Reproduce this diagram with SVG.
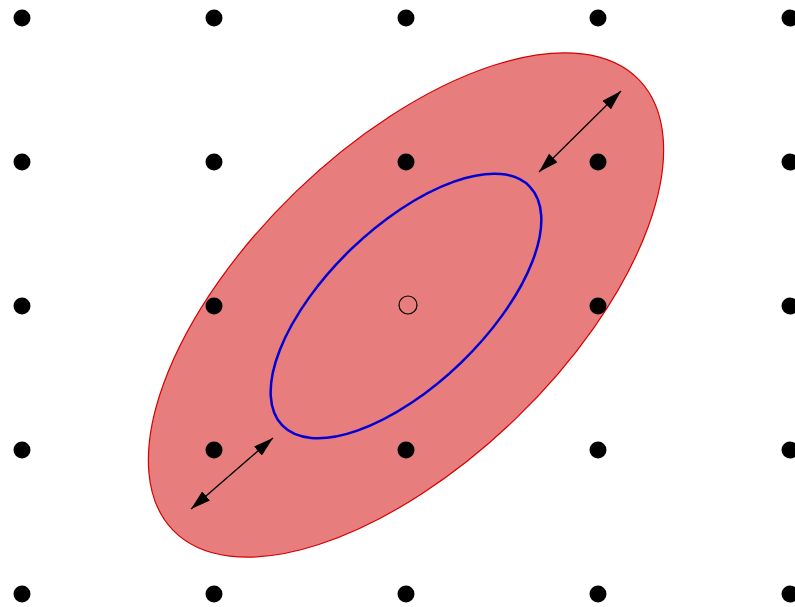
<svg xmlns="http://www.w3.org/2000/svg" width="795" height="607" viewBox="0 0 795 607">
<style>
.dot{fill:#000}
.outer{fill:#e77e7d;stroke:#d40000;stroke-width:1.2}
.inner{fill:none;stroke:#0000d4;stroke-width:2.5}
.center{fill:none;stroke:#000;stroke-width:1.2}
.arr{stroke:#000;stroke-width:1.3;fill:none;marker-start:url(#ah);marker-end:url(#ah)}
</style>
<defs>
<marker id="ah" viewBox="0 -6 20 12" markerWidth="20" markerHeight="12" refX="20" refY="0" markerUnits="userSpaceOnUse" orient="auto-start-reverse">
<path d="M0,-6 L20,0 L0,6 z" fill="#000"/>
</marker>
</defs>
<rect width="795" height="607" fill="#fff"/>
<g id="outer-region">
<ellipse class="outer" cx="406" cy="305" rx="324" ry="158" transform="rotate(-44 406 305)"/>
</g>
<g id="grid">
<circle class="dot" cx="22" cy="18" r="8.5"/><circle class="dot" cx="214" cy="18" r="8.5"/><circle class="dot" cx="406" cy="18" r="8.5"/><circle class="dot" cx="598" cy="18" r="8.5"/><circle class="dot" cx="790" cy="18" r="8.5"/>
<circle class="dot" cx="22" cy="162" r="8.5"/><circle class="dot" cx="214" cy="162" r="8.5"/><circle class="dot" cx="406" cy="162" r="8.5"/><circle class="dot" cx="598" cy="162" r="8.5"/><circle class="dot" cx="790" cy="162" r="8.5"/>
<circle class="dot" cx="22" cy="306" r="8.5"/><circle class="dot" cx="214" cy="306" r="8.5"/><circle class="dot" cx="598" cy="306" r="8.5"/><circle class="dot" cx="790" cy="306" r="8.5"/>
<circle class="dot" cx="22" cy="450" r="8.5"/><circle class="dot" cx="214" cy="450" r="8.5"/><circle class="dot" cx="406" cy="450" r="8.5"/><circle class="dot" cx="598" cy="450" r="8.5"/><circle class="dot" cx="790" cy="450" r="8.5"/>
<circle class="dot" cx="22" cy="594" r="8.5"/><circle class="dot" cx="214" cy="594" r="8.5"/><circle class="dot" cx="406" cy="594" r="8.5"/><circle class="dot" cx="598" cy="594" r="8.5"/><circle class="dot" cx="790" cy="594" r="8.5"/>
</g>
<g id="inner-region">
<ellipse class="inner" cx="406" cy="306" rx="172" ry="79" transform="rotate(-44 406 306)"/>
</g>
<g id="center-point">
<circle class="center" cx="408" cy="305" r="9"/>
</g>
<g id="connectors">
<line class="arr" x1="539" y1="172" x2="621" y2="91"/>
<line class="arr" x1="191" y1="509" x2="273" y2="438"/>
</g>
</svg>
